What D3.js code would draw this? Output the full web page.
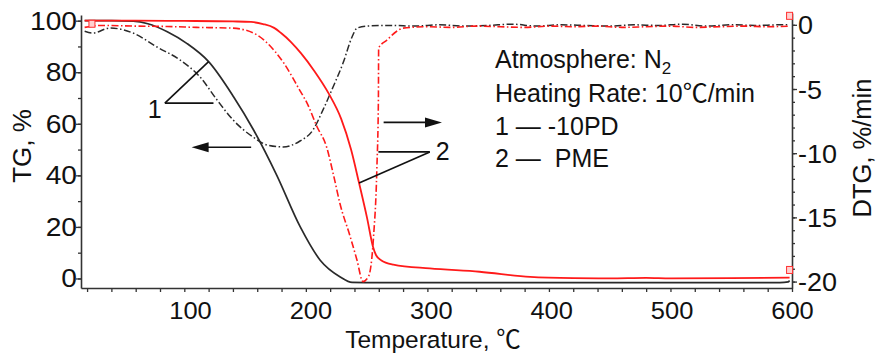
<!DOCTYPE html>
<html><head><meta charset="utf-8">
<script src="https://cdn.jsdelivr.net/npm/d3@7"></script>
<style>
body{margin:0;background:#fff}
svg{display:block}
text{font-family:"Liberation Sans",Arial,Helvetica,sans-serif;fill:#111}
.cjk{font-family:"Noto Sans CJK SC","Noto Sans CJK JP",sans-serif}
</style>
</head><body>
<svg id="c" width="877" height="354"></svg>
<script>
// ---------- data ----------
const blackTG_T = [18, 40, 58, 70, 86, 102, 120, 140.5, 157, 176, 195.4, 211.8, 228.3, 238, 260, 400, 590, 597, 598];
const blackTG_V = [100, 100, 99.8, 98.8, 95.7, 91.2, 84.1, 70.5, 57.6, 40.1, 20, 7.1, 0.6, -1.5, -1.6, -1.6, -1.6, -1.3, -0.8];

const redTG_T = [18, 60, 100, 140, 154.9, 164.8, 173.9, 179.6, 187.8, 196.1, 206.8, 219.1, 229, 237.2, 243.8, 250.4, 255.3, 257.8, 261.9, 272, 302, 343, 384.5, 420, 450, 480, 500, 550, 598];
const redTG_V = [100, 100, 99.9, 99.7, 99.5, 98.7, 97.2, 95.2, 91.7, 87.3, 80.6, 71.5, 62.0, 50.0, 37.0, 23.4, 12.2, 9.0, 7.1, 5.4, 3.9, 2.6, 0.6, 0.1, 0, 0.2, 0, 0.1, 0.3];

const blackDTG_T = [18, 24.7, 38.9, 57.8, 77.6, 96.5, 113, 127, 140.1, 156.6, 168.1, 181.3, 195.2, 205.9, 214.1, 222.4, 230.6, 238, 242.1, 250.3, 270, 290, 310, 330, 350, 370, 390, 410, 430, 450, 470, 490, 510, 530, 550, 570, 590, 598];
const blackDTG_V = [-0.5, -0.64, -0.25, -0.64, -1.73, -2.74, -4.07, -5.86, -7.41, -8.74, -9.36, -9.51, -9.05, -8.19, -6.63, -4.84, -2.98, -0.95, -0.26, -0.1, -0.05, -0.1, 0, -0.1, -0.05, 0.05, -0.1, 0, -0.05, -0.1, 0, -0.05, 0.05, -0.1, 0, -0.05, 0, 0];

const redDTG_T = [18, 31, 60, 86, 110, 140, 160, 168, 182, 195, 201, 209, 217, 223, 228, 236.5, 242, 247, 251.6, 255.7, 258.4, 259.7, 259.9, 266.6, 274.8, 280, 300, 320, 340, 360, 380, 400, 420, 440, 460, 480, 500, 520, 540, 560, 580, 598];
const redDTG_V = [-0.2, -0.05, -0.1, -0.13, -0.2, -0.26, -0.8, -1.4, -3.0, -5.1, -6.1, -7.9, -9.5, -11.8, -13.9, -16.5, -18.3, -20.0, -19.6, -16.5, -11.3, -5.8, -1.8, -1.2, -0.5, -0.26, -0.15, -0.2, -0.1, -0.15, -0.2, -0.1, -0.15, -0.1, -0.2, -0.15, -0.1, -0.2, -0.15, -0.1, -0.15, -0.1];

const xTicksMinor = d3.range(20, 601, 20);
const xTickLabels = [100, 200, 300, 400, 500, 600];
const yLTicksMinor = d3.range(0, 101, 10);
const yLTickLabels = [0, 20, 40, 60, 80, 100];
const yRTicksMinor = d3.range(-20, 1, 1);
const yRTickLabels = [0, -5, -10, -15, -20];

// ---------- scales ----------
const svg = d3.select("#c");
const x = d3.scaleLinear().domain([15, 600]).range([81, 792]);
const xLab = d3.scaleLinear().domain([100, 600]).range([190, 792]); // label layer of the source image
const yL = d3.scaleLinear().domain([-3.7, 102.2]).range([288, 15]);
const yR = d3.scaleLinear().domain([-20.5, 0.92]).range([288, 13]);

const axisColor = "#333";
function styleAxis(g, fs){
  g.selectAll("path.domain").attr("stroke", axisColor).attr("stroke-width", 1.6);
  g.selectAll(".tick line").attr("stroke", axisColor).attr("stroke-width", 1.3);
  g.selectAll("text").attr("font-size", fs || 25).attr("fill", "#111").style("font-family", '"Liberation Sans",Arial,sans-serif');
}

// bottom axis (ticks) + labels
const gxMinor = svg.append("g").attr("transform", "translate(0,288)")
  .call(d3.axisBottom(x).tickValues(xTicksMinor).tickFormat("").tickSize(4).tickSizeOuter(0));
styleAxis(gxMinor);
const gxLab = svg.append("g").attr("transform", "translate(0,288)")
  .call(d3.axisBottom(xLab).tickValues(xTickLabels).tickSize(0).tickPadding(14).tickFormat(d3.format("d")));
gxLab.select("path.domain").remove();
styleAxis(gxLab, 24.5);
gxLab.selectAll("text").attr("transform", "scale(1.04,1)").attr("x", 0);

// left axis
const gyMinor = svg.append("g").attr("transform", "translate(81,0)")
  .call(d3.axisLeft(yL).tickValues(yLTicksMinor).tickFormat("").tickSize(3).tickSizeOuter(0));
styleAxis(gyMinor);
const gy = svg.append("g").attr("transform", "translate(81,0)")
  .call(d3.axisLeft(yL).tickValues(yLTickLabels).tickSize(5).tickFormat(d3.format("d")));
gy.select("path.domain").remove();
styleAxis(gy);
gy.selectAll("text").attr("x", -3.5).attr("dy", "0.34em").attr("transform", "scale(1.13,1)");

// right axis
const gyrMinor = svg.append("g").attr("transform", "translate(792,0)")
  .call(d3.axisRight(yR).tickValues(yRTicksMinor).tickFormat("").tickSize(3).tickSizeOuter(0));
styleAxis(gyrMinor);
const gyr = svg.append("g").attr("transform", "translate(792,0)")
  .call(d3.axisRight(yR).tickValues(yRTickLabels).tickSize(5).tickFormat(d => d3.format("d")(d).replace("\u2212", "-")));
gyr.select("path.domain").remove();
styleAxis(gyr);
gyr.selectAll("text").attr("x", 5.5).attr("dy", "0.36em").attr("transform", "scale(1.08,1)");

// ---------- curves ----------
function series(T, V){ return T.map((t, i) => [t, V[i]]); }
const lineL = d3.line().curve(d3.curveMonotoneX).x(d => x(d[0])).y(d => yL(d[1]));
const lineR = d3.line().curve(d3.curveMonotoneX).x(d => x(d[0])).y(d => yR(d[1]));
const dashDot = "7,2.5,1.5,2.5";

svg.append("path").attr("d", lineL(series(blackTG_T, blackTG_V)))
  .attr("fill", "none").attr("stroke", "#2a2a2a").attr("stroke-width", 1.7);
svg.append("path").attr("d", lineR(series(blackDTG_T, blackDTG_V)))
  .attr("fill", "none").attr("stroke", "#2a2a2a").attr("stroke-width", 1.5).attr("stroke-dasharray", dashDot);
svg.append("path").attr("d", lineR(series(redDTG_T, redDTG_V)))
  .attr("fill", "none").attr("stroke", "#ff1a1a").attr("stroke-width", 1.6).attr("stroke-dasharray", dashDot);
svg.append("path").attr("d", lineL(series(redTG_T, redTG_V)))
  .attr("fill", "none").attr("stroke", "#ff1a1a").attr("stroke-width", 1.8);

// small end markers (red)
const markersL = [[598, 3.3], [24, 98.8]];
const markersR = [[598, 0.7]];
markersL.forEach(m => svg.append("rect").attr("x", x(m[0]) - 3).attr("y", yL(m[1]) - 3.5).attr("width", 6).attr("height", 7)
  .attr("fill", "#ffd0d0").attr("stroke", "#ff3030").attr("stroke-width", 1));
markersR.forEach(m => svg.append("rect").attr("x", x(m[0]) - 3).attr("y", yR(m[1]) - 3.5).attr("width", 6).attr("height", 7)
  .attr("fill", "#ffd0d0").attr("stroke", "#ff3030").attr("stroke-width", 1));

// ---------- annotations ----------
const ann = svg.append("g").attr("stroke", "#111").attr("stroke-width", 1.6).attr("fill", "none");
const v1 = [x(84), yL(68)];
ann.append("line").attr("x1", v1[0]).attr("y1", v1[1]).attr("x2", x(120)).attr("y2", yL(84.1));
ann.append("line").attr("x1", v1[0]).attr("y1", v1[1]).attr("x2", x(124)).attr("y2", yL(68));
svg.append("text").attr("x", v1[0] - 17).attr("y", v1[1] + 15).attr("font-size", 25).text("1");
const v2 = [x(302), yR(-9.9)];
ann.append("line").attr("x1", v2[0]).attr("y1", v2[1]).attr("x2", x(259.7)).attr("y2", yR(-9.9));
ann.append("line").attr("x1", v2[0]).attr("y1", v2[1]).attr("x2", x(243.8)).attr("y2", yL(37));
svg.append("text").attr("x", v2[0] + 6).attr("y", v2[1] + 8).attr("font-size", 25).text("2");

function arrow(x1, x2, yv){
  ann.append("line").attr("x1", x1).attr("y1", yv).attr("x2", x2 + (x2 > x1 ? -14 : 14)).attr("y2", yv);
  const dir = x2 > x1 ? -1 : 1;
  svg.append("path").attr("d", `M${x2},${yv} L${x2 + dir*17},${yv - 5} L${x2 + dir*17},${yv + 5} Z`).attr("fill", "#111");
}
arrow(x(155), x(106), yL(50.9));
arrow(x(264), x(312), yR(-7.6));

// ---------- legend text ----------
const lg = svg.append("g").attr("font-size", 25);
const t0 = lg.append("text").attr("x", 495).attr("y", 68);
t0.append("tspan").text("Atmosphere: N");
t0.append("tspan").attr("font-size", 17).attr("dy", 6).text("2");
const t1 = lg.append("text").attr("x", 495).attr("y", 101.5);
t1.append("tspan").text("Heating Rate: 10");
t1.append("tspan").attr("class", "cjk").text("\u2103");
t1.append("tspan").text("/min");
lg.append("text").attr("x", 495).attr("y", 134.5).text("1 \u2014 -10PD");
lg.append("text").attr("x", 495).attr("y", 167).text("2 \u2014\u00a0 PME");

// ---------- axis titles ----------
const tx = svg.append("text").attr("x", 433).attr("y", 347.5).attr("text-anchor", "middle").attr("font-size", 24.5);
tx.append("tspan").text("Temperature, ");
tx.append("tspan").attr("class", "cjk").text("\u2103");
svg.append("text").attr("transform", "translate(31,146) rotate(-90)").attr("text-anchor", "middle").attr("font-size", 26).text("TG, %");
svg.append("text").attr("transform", "translate(871,148) rotate(-90)").attr("text-anchor", "middle").attr("font-size", 25.5).text("DTG, %/min");
</script>
</body></html>
